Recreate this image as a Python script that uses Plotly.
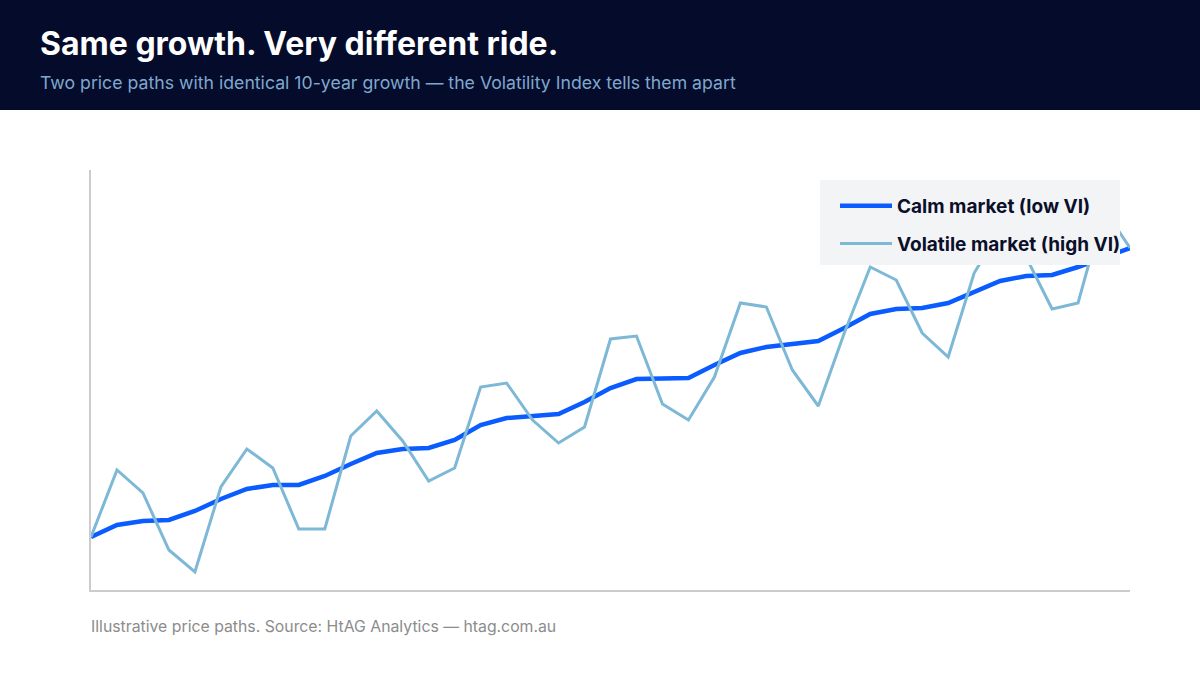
import plotly.graph_objects as go

quarters = list(range(41))

calm = [100, 103, 104, 104.25, 106.5, 109.5, 112, 113, 113, 115.25,
        118.25, 121, 122, 122.25, 124.25, 128, 129.75, 130.25, 130.75, 133.75,
        137.25, 139.5, 139.5, 139.75, 143, 146, 147.5, 148.25, 149, 152.25,
        155.75, 157, 157.25, 158.5, 161.25, 164, 165.25, 165.5, 167.5, 170,
        172.25]

volatile = [100, 116.75, 111, 96.75, 91.25, 112.5, 122, 117.25, 102, 102,
            125.25, 131.5, 124, 114, 117.25, 137.5, 138.5, 129.25, 123.5, 127.5,
            149.5, 150.25, 133.25, 129.25, 140, 158.5, 157.5, 141.75, 132.75, 151,
            167.5, 164.25, 151, 145, 166, 176.75, 170, 157, 158.5, 182,
            172.25]

names = ["Calm market (low VI)", "Volatile market (high VI)"]

title = "Same growth. Very different ride."
subtitle = "Two price paths with identical 10-year growth \u2014 the Volatility Index tells them apart"
source = "Illustrative price paths. Source: HtAG Analytics \u2014 htag.com.au"

FONT = "Inter, Roboto, 'DejaVu Sans', sans-serif"
CALM_COLOR = "#0A5CFF"
VOL_COLOR = "#7DB8D6"

PW, PH, L, T = 1039, 420, 91, 170


def px_x(x):
    return (x - L) / PW


def px_y(y):
    return (T + PH - y) / PH


fig = go.Figure()
fig.add_trace(go.Scatter(x=quarters, y=calm, mode="lines", name=names[0],
                         legendgroup="a",
                         line=dict(color=CALM_COLOR, width=4.5)))
fig.add_trace(go.Scatter(x=quarters, y=volatile, mode="lines", name=names[1],
                         legendgroup="b",
                         line=dict(color=VOL_COLOR, width=3)))

# header band
fig.add_shape(type="rect", xref="paper", yref="paper",
              x0=-0.2, x1=1.2, y0=px_y(110), y1=1.6,
              fillcolor="#050B2A", line=dict(width=0), layer="below")

# legend background panel
fig.add_shape(type="rect", xref="paper", yref="paper",
              x0=px_x(820), x1=px_x(1120), y0=px_y(265), y1=px_y(180),
              fillcolor="#F3F4F5", line=dict(width=0), layer="above")

fig.add_annotation(text="<b>" + title + "</b>", xref="paper", yref="paper",
                   x=px_x(38), y=px_y(44),
                   xanchor="left", yanchor="middle", showarrow=False,
                   font=dict(family=FONT, size=32, color="#FFFFFF"))
fig.add_annotation(text=subtitle, xref="paper", yref="paper",
                   x=px_x(38), y=px_y(82),
                   xanchor="left", yanchor="middle", showarrow=False,
                   font=dict(family=FONT, size=17.7, color="#7FA8CF"))
fig.add_annotation(text=source, xref="paper", yref="paper",
                   x=px_x(89), y=px_y(626),
                   xanchor="left", yanchor="middle", showarrow=False,
                   font=dict(family=FONT, size=15.8, color="#8C8C8C"))

fig.update_layout(
    width=1200, height=675,
    margin=dict(l=L, r=1200 - L - PW, t=T, b=675 - T - PH),
    paper_bgcolor="#FFFFFF", plot_bgcolor="#FFFFFF",
    font=dict(family=FONT),
    showlegend=True,
    legend=dict(x=px_x(835), y=px_y(187), xanchor="left", yanchor="top",
                bgcolor="rgba(0,0,0,0)", borderwidth=0,
                font=dict(family=FONT, size=19, color="#0A0F2A", weight="bold"),
                itemwidth=52, tracegroupgap=10,
                traceorder="grouped"),
    xaxis=dict(range=[0, 40], showgrid=False, zeroline=False,
               showticklabels=False, ticks="", showline=True,
               linecolor="#CCCCCC", linewidth=2),
    yaxis=dict(range=[86.75, 191.75], showgrid=False, zeroline=False,
               showticklabels=False, ticks="", showline=True,
               linecolor="#CCCCCC", linewidth=2),
)

fig.write_html("out.html")
